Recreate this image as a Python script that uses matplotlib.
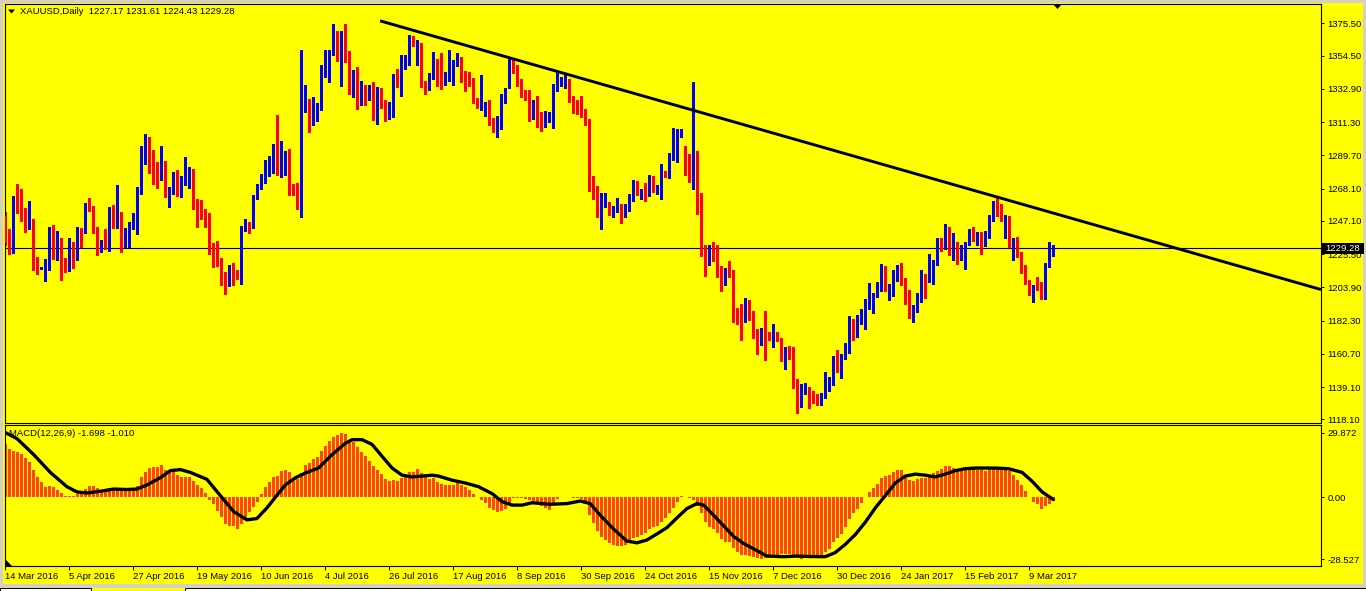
import numpy as np
import matplotlib.pyplot as plt
from matplotlib.patches import Rectangle, Polygon

plt.rcParams['font.family'] = ['Liberation Sans', 'DejaVu Sans']

# -----------------
# > Chart values <
# -----------------
opens = [
    1250.3, 1235.0, 1232.3, 1262.2, 1257.6, 1255.3, 1242.6, 1248.2, 1220.0, 1216.3,
    1216.1, 1221.2, 1241.3, 1224.2, 1232.3, 1220.0, 1214.5, 1232.7, 1221.9, 1240.3,
    1239.9, 1256.9, 1255.8, 1242.6, 1227.0, 1234.3, 1233.4, 1250.0, 1243.8, 1247.9,
    1231.6, 1237.6, 1242.2, 1244.9, 1265.2, 1287.1, 1291.1, 1286.5, 1279.5, 1277.9,
    1285.3, 1263.4, 1265.7, 1277.2, 1262.9, 1270.8, 1273.8, 1279.5, 1258.1, 1254.6,
    1252.3, 1248.4, 1226.5, 1223.7, 1219.6, 1212.7, 1205.3, 1215.0, 1212.7, 1210.4,
    1241.9, 1245.4, 1246.1, 1261.5, 1268.0, 1274.9, 1283.0, 1285.3, 1291.5, 1278.4,
    1285.3, 1289.5, 1269.2, 1265.7, 1258.3, 1319.2, 1323.4, 1309.5, 1318.7, 1320.6,
    1341.8, 1348.7, 1355.6, 1364.2, 1359.6, 1369.0, 1354.9, 1333.7, 1342.5, 1335.3,
    1332.6, 1327.5, 1331.4, 1315.3, 1330.7, 1322.7, 1314.8, 1319.9, 1339.5, 1334.9,
    1347.6, 1352.2, 1364.2, 1357.2, 1361.4, 1337.2, 1334.9, 1339.9, 1346.4, 1338.8,
    1337.2, 1339.0, 1345.7, 1348.3, 1352.6, 1341.3, 1338.8, 1338.3, 1324.5, 1320.6,
    1319.9, 1322.9, 1311.4, 1309.1, 1312.7, 1324.0, 1334.9, 1349.9, 1345.3, 1335.3,
    1328.0, 1327.5, 1317.6, 1322.7, 1314.1, 1309.5, 1312.5, 1314.1, 1336.3, 1336.7,
    1336.7, 1338.3, 1326.8, 1321.5, 1320.4, 1317.6, 1312.3, 1268.7, 1267.5, 1253.5,
    1256.5, 1259.2, 1251.4, 1254.6, 1258.1, 1251.4, 1253.5, 1261.8, 1268.7, 1265.0,
    1265.7, 1263.9, 1273.8, 1266.4, 1267.5, 1277.2, 1276.1, 1287.1, 1296.4, 1302.1,
    1293.4, 1281.8, 1274.9, 1277.2, 1259.2, 1228.1, 1220.7, 1227.0, 1225.3, 1216.1,
    1207.4, 1213.4, 1212.7, 1187.3, 1185.0, 1182.2, 1193.8, 1188.0, 1173.5, 1171.2,
    1182.2, 1170.2, 1168.8, 1174.2, 1170.7, 1157.3, 1162.9, 1157.8, 1141.2, 1128.5,
    1134.7, 1138.2, 1133.1, 1131.9, 1127.8, 1132.4, 1137.3, 1141.2, 1158.5, 1149.7,
    1157.8, 1161.9, 1180.4, 1171.8, 1180.4, 1186.8, 1190.8, 1196.5, 1198.1, 1202.3,
    1217.3, 1203.4, 1203.4, 1208.0, 1218.4, 1209.2, 1201.1, 1188.4, 1191.4, 1194.7,
    1210.4, 1208.5, 1215.0, 1220.7, 1234.6, 1232.3, 1241.0, 1227.7, 1232.3, 1224.7,
    1227.0, 1232.7, 1239.2, 1235.0, 1237.6, 1235.3, 1236.2, 1248.4, 1257.2, 1251.9,
    1246.8, 1248.4, 1234.1, 1233.4, 1225.3, 1215.4, 1206.9, 1200.0, 1204.6, 1203.9,
    1197.7, 1218.0, 1227.17,
]
highs = [
    1253.0, 1241.5, 1263.4, 1270.8, 1267.5, 1255.5, 1259.9, 1248.4, 1223.5, 1217.0,
    1222.3, 1243.1, 1244.5, 1240.3, 1235.7, 1223.0, 1236.2, 1233.4, 1243.1, 1242.6,
    1258.8, 1262.2, 1256.5, 1243.1, 1234.6, 1241.5, 1256.2, 1257.6, 1270.3, 1252.6,
    1242.6, 1246.1, 1252.3, 1269.4, 1295.7, 1303.3, 1301.4, 1293.4, 1285.3, 1295.7,
    1285.8, 1269.2, 1278.8, 1280.2, 1276.1, 1288.8, 1281.8, 1281.1, 1261.1, 1260.6,
    1255.1, 1251.9, 1233.0, 1234.3, 1223.0, 1213.6, 1218.4, 1220.0, 1215.4, 1243.5,
    1248.4, 1246.1, 1263.9, 1270.8, 1277.7, 1286.9, 1289.5, 1296.8, 1315.7, 1299.1,
    1292.7, 1294.1, 1270.8, 1271.5, 1357.9, 1335.3, 1326.3, 1327.3, 1324.0, 1348.7,
    1357.9, 1357.9, 1375.2, 1370.6, 1370.6, 1375.2, 1357.5, 1345.3, 1346.9, 1338.3,
    1335.3, 1335.3, 1337.2, 1334.2, 1333.7, 1325.7, 1324.5, 1342.3, 1345.7, 1354.9,
    1354.9, 1367.6, 1367.2, 1364.9, 1362.6, 1338.3, 1342.9, 1356.8, 1352.6, 1356.1,
    1343.6, 1357.9, 1351.5, 1356.1, 1353.3, 1344.6, 1344.1, 1340.0, 1326.8, 1341.8,
    1324.5, 1325.7, 1314.1, 1315.3, 1329.8, 1333.7, 1353.3, 1352.2, 1348.7, 1339.5,
    1332.1, 1331.9, 1325.7, 1328.0, 1317.6, 1318.3, 1317.6, 1336.0, 1344.1, 1340.6,
    1342.3, 1339.5, 1328.4, 1325.7, 1328.0, 1319.9, 1313.0, 1276.5, 1269.6, 1265.0,
    1265.0, 1259.4, 1256.5, 1262.2, 1258.3, 1258.3, 1264.5, 1273.8, 1273.3, 1268.0,
    1271.5, 1276.8, 1276.5, 1270.3, 1284.1, 1279.5, 1291.5, 1307.7, 1306.7, 1306.5,
    1295.7, 1290.4, 1337.6, 1292.2, 1265.0, 1231.1, 1231.1, 1233.4, 1231.1, 1217.7,
    1216.8, 1220.7, 1215.0, 1190.8, 1193.1, 1197.2, 1195.4, 1188.4, 1176.9, 1177.6,
    1188.4, 1175.1, 1180.4, 1175.1, 1171.2, 1165.4, 1165.8, 1165.4, 1144.6, 1141.2,
    1141.6, 1138.9, 1136.6, 1134.3, 1135.4, 1149.2, 1145.8, 1159.2, 1163.1, 1160.8,
    1167.7, 1185.0, 1183.1, 1186.1, 1190.1, 1196.5, 1206.9, 1200.4, 1207.6, 1218.9,
    1217.7, 1206.2, 1215.0, 1218.4, 1220.0, 1209.9, 1202.3, 1192.4, 1200.0, 1215.0,
    1212.7, 1225.3, 1221.9, 1235.7, 1235.7, 1244.9, 1243.1, 1239.2, 1233.4, 1231.1,
    1233.6, 1241.9, 1243.3, 1239.6, 1239.6, 1240.3, 1250.7, 1259.9, 1263.4, 1258.3,
    1251.2, 1250.0, 1236.2, 1236.9, 1227.0, 1218.4, 1208.5, 1205.7, 1210.4, 1207.6,
    1220.0, 1233.4, 1231.61,
]
lows = [
    1231.1, 1225.3, 1226.5, 1251.9, 1247.3, 1239.9, 1241.5, 1215.4, 1212.7, 1216.0,
    1208.0, 1215.4, 1222.3, 1221.9, 1208.5, 1213.8, 1214.3, 1216.6, 1221.7, 1230.0,
    1239.2, 1253.5, 1239.2, 1224.7, 1226.8, 1228.8, 1227.7, 1242.6, 1242.6, 1227.0,
    1230.0, 1230.0, 1241.5, 1238.5, 1264.5, 1284.1, 1278.4, 1271.0, 1268.5, 1273.8,
    1262.9, 1256.0, 1264.5, 1263.4, 1262.9, 1270.3, 1268.5, 1254.6, 1243.1, 1248.4,
    1243.1, 1225.8, 1217.3, 1218.0, 1205.7, 1199.5, 1205.0, 1205.7, 1209.2, 1206.4,
    1240.3, 1239.2, 1242.6, 1261.1, 1267.8, 1271.5, 1276.1, 1278.4, 1276.8, 1275.4,
    1277.2, 1263.9, 1263.9, 1254.6, 1249.6, 1317.6, 1304.9, 1309.3, 1312.3, 1319.2,
    1340.6, 1337.6, 1355.2, 1351.0, 1334.9, 1350.6, 1329.8, 1327.5, 1319.9, 1322.2,
    1322.2, 1325.7, 1312.5, 1310.2, 1320.6, 1312.3, 1313.0, 1314.8, 1334.2, 1328.0,
    1345.9, 1348.7, 1360.7, 1348.7, 1334.2, 1329.8, 1332.1, 1339.0, 1334.9, 1333.0,
    1335.6, 1338.3, 1335.6, 1348.0, 1337.2, 1331.4, 1334.9, 1323.4, 1320.6, 1319.2,
    1315.3, 1309.5, 1304.9, 1301.9, 1306.7, 1323.4, 1333.7, 1342.9, 1334.9, 1327.3,
    1325.7, 1312.3, 1313.0, 1308.4, 1305.4, 1308.4, 1311.4, 1307.7, 1331.4, 1334.9,
    1333.7, 1324.5, 1316.9, 1316.4, 1314.8, 1309.5, 1266.2, 1261.5, 1249.6, 1241.5,
    1256.3, 1251.2, 1249.6, 1253.0, 1245.6, 1249.6, 1253.3, 1259.9, 1264.1, 1261.1,
    1259.9, 1263.4, 1265.7, 1264.5, 1261.1, 1275.4, 1274.9, 1286.5, 1285.3, 1301.4,
    1277.2, 1272.6, 1267.5, 1251.4, 1224.2, 1211.0, 1218.4, 1221.2, 1210.4, 1201.8,
    1205.3, 1210.4, 1181.5, 1179.9, 1170.0, 1181.5, 1182.7, 1170.7, 1160.3, 1166.5,
    1156.6, 1169.5, 1164.9, 1168.8, 1156.2, 1150.9, 1157.3, 1138.2, 1122.3, 1126.2,
    1134.3, 1125.5, 1128.5, 1127.3, 1127.6, 1131.9, 1136.6, 1140.5, 1149.2, 1145.3,
    1157.3, 1161.5, 1170.0, 1171.6, 1179.9, 1176.9, 1190.1, 1187.3, 1197.7, 1201.6,
    1201.6, 1195.4, 1198.4, 1207.8, 1205.7, 1193.1, 1183.8, 1181.5, 1187.8, 1194.2,
    1197.2, 1207.6, 1206.4, 1218.4, 1227.7, 1228.8, 1224.7, 1221.9, 1218.9, 1221.9,
    1216.1, 1231.1, 1234.1, 1231.6, 1225.3, 1230.6, 1235.7, 1247.3, 1250.0, 1247.3,
    1236.2, 1230.0, 1221.9, 1223.7, 1213.4, 1206.2, 1198.8, 1194.2, 1202.3, 1196.5,
    1196.5, 1217.3, 1224.43,
]
closes = [
    1232.7, 1232.3, 1262.2, 1257.6, 1254.6, 1243.1, 1248.2, 1219.6, 1216.1, 1216.5,
    1221.9, 1242.2, 1224.2, 1232.3, 1215.4, 1215.0, 1231.1, 1219.6, 1240.3, 1239.2,
    1257.2, 1254.6, 1242.6, 1227.7, 1233.9, 1232.3, 1250.0, 1243.8, 1247.9, 1235.3,
    1237.3, 1242.6, 1245.4, 1265.7, 1293.6, 1288.1, 1286.5, 1278.8, 1278.4, 1288.8,
    1263.4, 1265.7, 1277.7, 1270.8, 1273.1, 1274.2, 1278.8, 1258.3, 1254.2, 1251.9,
    1250.7, 1226.5, 1223.5, 1219.1, 1211.5, 1204.6, 1215.0, 1212.2, 1210.4, 1243.3,
    1243.3, 1244.5, 1262.2, 1268.7, 1274.9, 1283.0, 1286.5, 1291.5, 1278.4, 1298.0,
    1289.5, 1267.3, 1265.2, 1256.5, 1316.9, 1324.5, 1310.7, 1319.2, 1321.5, 1341.8,
    1351.0, 1356.1, 1363.7, 1359.6, 1364.4, 1354.5, 1332.6, 1342.5, 1334.2, 1338.1,
    1327.5, 1331.4, 1315.3, 1330.7, 1322.7, 1315.3, 1319.9, 1339.0, 1334.9, 1351.0,
    1352.9, 1363.7, 1361.4, 1361.4, 1336.5, 1334.9, 1340.6, 1346.4, 1338.3, 1337.2,
    1339.5, 1345.7, 1348.3, 1351.7, 1339.5, 1338.3, 1337.2, 1327.5, 1321.5, 1321.7,
    1322.9, 1310.7, 1309.1, 1313.7, 1325.0, 1331.9, 1349.9, 1344.1, 1337.6, 1328.0,
    1327.3, 1318.7, 1322.2, 1314.1, 1309.5, 1312.5, 1314.6, 1333.0, 1337.2, 1337.6,
    1337.6, 1326.3, 1321.5, 1319.9, 1315.7, 1310.7, 1267.5, 1265.7, 1253.5, 1256.5,
    1259.2, 1251.4, 1254.6, 1258.1, 1251.4, 1255.3, 1262.2, 1268.7, 1265.0, 1267.3,
    1263.9, 1273.8, 1266.4, 1267.5, 1276.1, 1276.1, 1288.1, 1297.3, 1300.3, 1304.2,
    1280.7, 1274.9, 1277.2, 1258.1, 1224.9, 1220.3, 1229.3, 1224.2, 1215.7, 1208.5,
    1214.3, 1211.5, 1186.6, 1183.8, 1183.1, 1193.8, 1187.8, 1172.8, 1171.2, 1176.2,
    1169.5, 1169.8, 1173.5, 1170.0, 1158.5, 1161.9, 1157.8, 1142.3, 1127.8, 1133.1,
    1138.2, 1131.9, 1130.8, 1127.8, 1133.1, 1138.9, 1141.2, 1157.8, 1150.4, 1158.5,
    1163.1, 1180.4, 1171.6, 1180.4, 1187.3, 1191.4, 1195.4, 1198.1, 1202.3, 1216.6,
    1202.3, 1204.6, 1208.5, 1217.3, 1208.0, 1199.5, 1187.8, 1190.8, 1194.7, 1210.4,
    1209.2, 1215.4, 1219.6, 1235.0, 1233.4, 1241.0, 1227.7, 1233.4, 1224.2, 1228.1,
    1233.4, 1239.2, 1234.6, 1237.3, 1235.0, 1237.6, 1248.9, 1257.2, 1251.9, 1247.7,
    1249.6, 1233.9, 1234.6, 1224.2, 1214.5, 1206.9, 1200.4, 1204.6, 1203.4, 1197.7,
    1218.9, 1226.5, 1229.28,
]

# MACD(12,26,9) main values (drawn as histogram)
macd_hist = [
    24.6, 22.1, 21.6, 21.0, 20.2, 18.0, 16.1, 12.8, 9.5, 6.9,
    4.9, 5.2, 4.6, 3.3, 2.0, 0.8, 0.8, 0.5, 1.3, 2.5,
    3.8, 5.2, 5.2, 4.1, 3.3, 3.3, 4.1, 4.1, 3.6, 3.3,
    3.3, 3.3, 3.3, 5.2, 9.5, 11.8, 13.6, 13.9, 13.9, 14.8,
    12.8, 11.5, 11.5, 10.2, 9.5, 9.5, 9.5, 7.4, 5.7, 4.4,
    2.0, -1.3, -3.3, -6.2, -9.0, -12.3, -13.1, -13.4, -14.4, -12.3,
    -9.8, -6.9, -4.6, -2.0, 1.6, 4.9, 6.9, 9.5, 9.8, 12.3,
    12.6, 11.5, 8.2, 8.5, 11.2, 14.8, 15.9, 17.7, 18.5, 21.6,
    23.8, 26.2, 27.9, 28.7, 29.872, 29.2, 26.2, 25.4, 23.3, 21.0,
    18.9, 16.9, 14.3, 12.6, 10.7, 8.5, 7.4, 7.9, 7.7, 9.0,
    9.3, 11.8, 11.8, 13.1, 11.2, 9.3, 8.5, 8.7, 6.9, 6.2,
    5.7, 5.7, 5.7, 6.9, 5.7, 4.6, 3.6, 1.6, 0.1, -1.3,
    -2.5, -4.9, -5.7, -6.6, -6.1, -5.2, -2.5, -0.5, -0.3, -0.5,
    -0.8, -1.3, -1.6, -3.0, -4.1, -4.9, -5.7, -2.5, -0.8, 0.3,
    0.3, 0.3, -0.3, -0.3, -0.8, -2.5, -8.2, -11.8, -15.6, -18.4,
    -19.7, -21.3, -21.8, -22.5, -22.6, -22.1, -20.5, -18.9, -18.4, -17.5,
    -16.4, -14.4, -13.6, -13.1, -11.5, -9.5, -7.4, -4.9, -2.0, 0.5,
    0.1, -0.5, -1.3, -4.1, -7.4, -11.5, -13.6, -14.8, -16.7, -19.4,
    -20.5, -20.8, -23.3, -25.4, -26.6, -26.6, -27.1, -27.6, -28.2, -28.4,
    -27.9, -27.9, -27.4, -26.7, -26.2, -26.2, -26.2, -26.7, -27.9, -28.527,
    -28.2, -27.9, -27.9, -27.6, -27.1, -25.4, -23.8, -20.5, -18.9, -16.9,
    -13.9, -9.8, -7.4, -5.2, -2.5, 0.3, 2.5, 4.1, 6.2, 9.0,
    9.8, 10.3, 11.5, 12.6, 12.6, 9.8, 8.2, 7.7, 8.5, 8.7,
    9.0, 10.3, 11.0, 12.3, 13.1, 14.4, 14.4, 13.4, 12.3, 12.6,
    12.6, 13.1, 13.1, 12.6, 12.6, 12.3, 13.1, 13.9, 13.9, 13.6,
    12.6, 12.3, 10.3, 7.9, 5.7, 3.0, 0.3, -2.0, -3.3, -5.2,
    -3.8, -3.3, -1.698,
]

# signal line at these bar positions
signal_bars = [
    0, 2.9, 7.1, 11.25, 15.4, 17.9, 20.4, 23.75, 27.1, 30.4,
    32.9, 35.4, 38.75, 41.25, 43.75, 46.25, 50.4, 53.75, 57.1, 60.4,
    62.9, 65.4, 67.5, 70, 72.5, 75, 78.3, 81.7, 85, 86.7,
    89.2, 91.7, 94.2, 96.7, 99.2, 101.7, 104.2, 106.7, 108.3, 111.7,
    115, 118.3, 121.7, 124.2, 126.7, 129.2, 131.7, 136.25, 140.4, 143.75,
    146.25, 148.75, 152.1, 155.4, 157.9, 160.4, 162.9, 165.4, 167.9, 170.4,
    172.9, 174.6, 177.1, 179.6, 182.1, 184.6, 187.9, 190.4, 194.6, 197.9,
    200.8, 205, 207.5, 210, 212.5, 215, 217.5, 220, 222.5, 225,
    227.5, 230, 232.5, 235, 237.5, 240, 242.5, 245, 247.5, 250.8,
    254.2, 256.7, 259.2, 262,
]
signal_vals = [
    29.9, 27.1, 19.7, 11.5, 4.9, 2.5, 2.0, 2.8, 3.8, 3.6,
    3.8, 5.7, 9.0, 12.3, 12.8, 11.5, 8.3, 0.8, -6.6, -10.4,
    -9.8, -4.9, 0.0, 5.7, 9.0, 11.2, 13.5, 19.7, 24.9, 26.6,
    26.6, 24.4, 18.9, 13.5, 10.2, 9.4, 9.8, 10.2, 9.8, 7.9,
    6.6, 4.9, 1.7, -2.0, -3.6, -3.6, -2.5, -3.2, -2.9, -1.7,
    -2.9, -8.3, -14.7, -20.2, -21.0, -19.7, -16.9, -14.0, -9.5, -5.2,
    -2.9, -3.6, -8.3, -13.2, -18.1, -21.3, -24.6, -27.1, -27.4, -27.1,
    -27.3, -27.4, -25.5, -21.7, -17.2, -11.5, -4.9, 0.8, 6.6, 9.8,
    10.7, 10.2, 9.4, 10.7, 12.3, 13.2, 13.5, 13.5, 13.5, 13.2,
    11.5, 7.4, 2.5, -1.01,
]

date_labels = [
    "14 Mar 2016", "5 Apr 2016", "27 Apr 2016", "19 May 2016", "10 Jun 2016",
    "4 Jul 2016", "26 Jul 2016", "17 Aug 2016", "8 Sep 2016", "30 Sep 2016",
    "24 Oct 2016", "15 Nov 2016", "7 Dec 2016", "30 Dec 2016", "24 Jan 2017",
    "15 Feb 2017", "9 Mar 2017",
]
price_ticks = [1375.50, 1354.50, 1332.90, 1311.30, 1289.70, 1268.10, 1247.10,
               1225.50, 1203.90, 1182.30, 1160.70, 1139.10, 1118.10]
macd_ticks = [29.872, 0.0, -28.527]
macd_tick_labels = ["29.872", "0.00", "-28.527"]

trend_start = (93.7, 1377.1)
trend_end = (328.9, 1202.5)
last_price = 1229.28
title = "XAUUSD,Daily  1227.17 1231.61 1224.43 1229.28"
macd_title = "MACD(12,26,9) -1.698 -1.010"

# ------------------
# > Layout / style <
# ------------------
W, H = 1366, 591
YELLOW = "#FFFF00"
BULL = "#0000FF"
BEAR = "#FF0000"
HIST = "#FF4500"
FS = 6.8


def px_box(x0, y0, x1, y1):
    return [x0 / W, 1 - y1 / H, (x1 - x0) / W, (y1 - y0) / H]


def px(x, y):
    return (x / W, 1 - y / H)


fig = plt.figure(figsize=(W / 100, H / 100), dpi=100, facecolor=YELLOW)
ax = fig.add_axes(px_box(5, 4, 1321, 423), facecolor=YELLOW)
axm = fig.add_axes(px_box(5, 424.5, 1321, 566), facecolor=YELLOW, sharex=ax)

o = np.array(opens)
h = np.array(highs)
l = np.array(lows)
c = np.array(closes)
x = np.arange(len(o))
cols = np.where(c >= o, BULL, BEAR)

# candles
ax.vlines(x, l, h, colors=cols, lw=0.75, antialiased=False, zorder=2)
ax.bar(x, np.maximum(np.abs(c - o), 0.4), bottom=np.minimum(o, c), width=0.75,
       color=cols, linewidth=0, antialiased=False, zorder=3)

# bid line + trend line
ax.axhline(last_price, color="black", lw=0.8, zorder=1)
ax.plot([trend_start[0], trend_end[0]], [trend_start[1], trend_end[1]],
        color="black", lw=2.1, solid_capstyle="butt", zorder=4)

ax.set_xlim(-0.075, 328.925)
ax.set_ylim(1115.74, 1388.05)

# MACD pane
axm.bar(x, macd_hist, width=0.7, color=HIST, linewidth=0, antialiased=False)
axm.plot(signal_bars, signal_vals, color="black", lw=2.4,
         solid_joinstyle="round", solid_capstyle="round")
axm.set_ylim(-31.7, 33.6)

for a in (ax, axm):
    for s in a.spines.values():
        s.set_color("black")
        s.set_linewidth(0.8)
    a.yaxis.tick_right()
    a.tick_params(axis="y", direction="out", length=2.5, width=0.7, pad=2.2,
                  labelsize=FS, colors="black")

ax.tick_params(axis="x", bottom=False, labelbottom=False)
ax.set_yticks(price_ticks)
ax.set_yticklabels([f"{v:.2f}" for v in price_ticks])

axm.set_yticks(macd_ticks)
axm.set_yticklabels(macd_tick_labels)
axm.set_xticks(np.arange(len(date_labels)) * 16)
axm.set_xticklabels(date_labels)
axm.tick_params(axis="x", direction="out", length=3, width=0.7, pad=1.5,
                labelsize=FS, colors="black")
for lab in axm.get_xticklabels():
    lab.set_ha("left")

# titles
fig.text(*px(20, 11.5), title, fontsize=FS, va="center", ha="left", color="black")
fig.text(*px(9, 433), macd_title, fontsize=FS, va="center", ha="left", color="black",
         zorder=1)
fig.patches.append(Polygon([px(8, 9.5), px(15, 9.5), px(11.5, 13.5)], closed=True,
                           transform=fig.transFigure, facecolor="black", edgecolor="none"))
fig.patches.append(Polygon([px(1053, 4), px(1062, 4), px(1057.5, 9)], closed=True,
                           transform=fig.transFigure, facecolor="black", edgecolor="none"))
fig.patches.append(Polygon([px(5, 559), px(5, 566), px(12, 566)], closed=True,
                           transform=fig.transFigure, facecolor="black", edgecolor="none"))

# bid price box on the price scale
bx0, by0, bx1, by1 = 1322, 243, 1364, 254
fig.patches.append(Rectangle(px(bx0, by1), (bx1 - bx0) / W, (by1 - by0) / H,
                             transform=fig.transFigure, facecolor="black",
                             edgecolor="none", zorder=5))
fig.text(*px(1343, 248.5), f"{last_price:.2f}", fontsize=FS, va="center", ha="center",
         color="white", zorder=6)

# window frame bits
for r in [(0, 0, W, 2.5), (0, 0, 2.5, H), (1363, 0, W, H), (0, 584, W, 587.5)]:
    fig.patches.append(Rectangle(px(r[0], r[3]), (r[2] - r[0]) / W, (r[3] - r[1]) / H,
                                 transform=fig.transFigure, facecolor="#D4D0C8",
                                 edgecolor="none", zorder=0))
fig.patches.append(Rectangle(px(0, H), 91 / W, 3.5 / H, transform=fig.transFigure,
                             facecolor="white", edgecolor="black", lw=0.7))
fig.patches.append(Rectangle(px(185, H), (W - 185) / W, 3.5 / H, transform=fig.transFigure,
                             facecolor="white", edgecolor="black", lw=0.7))

fig.savefig("out.png", dpi=100, facecolor=YELLOW)
